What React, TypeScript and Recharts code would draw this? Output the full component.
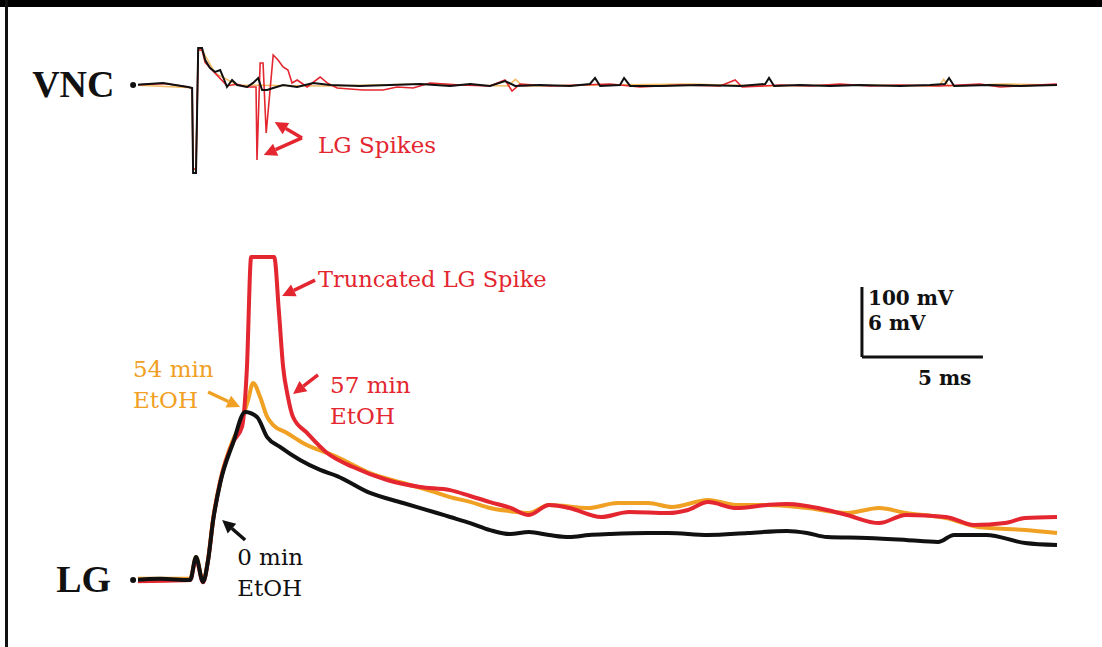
import { LineChart, Line, XAxis, YAxis, ReferenceLine, ReferenceDot } from 'recharts';

// time base in ms, LG in mV (re: rest), VNC in µV
const lgBlackT = [0, 1.12, 2.36, 2.6, 2.89, 3.1, 3.31, 3.6, 4.13, 4.63, 5.12, 5.54, 6.07, 6.9, 7.73, 8.43, 9.79, 11.16, 12.56, 13.1, 13.93, 14.75, 15.58, 16.36, 17.19, 18.02, 18.84, 19.67, 21.28, 22.11, 23.76, 25.41, 27.02, 27.85, 28.68, 30.33, 31.94, 33.26, 33.93, 35.25, 36.86, 38.18];
const lgBlackV = [0, 0.1, 0, 1.97, -0.17, 1.71, 5.14, 8.31, 11.74, 14.4, 13.97, 12.25, 11.4, 10.28, 9.43, 8.91, 7.46, 6.6, 5.74, 5.4, 4.88, 4.28, 3.94, 4.11, 3.86, 3.68, 3.86, 3.94, 4.03, 4.03, 3.86, 4.03, 4.2, 4.03, 3.68, 3.6, 3.43, 3.26, 3.86, 3.86, 3.17, 3.0];

const lgOrangeT = [0, 2.36, 2.6, 2.89, 3.1, 3.31, 3.6, 4.13, 4.42, 4.75, 4.96, 5.25, 5.54, 5.79, 6.36, 7.02, 8.43, 9.79, 11.16, 12.56, 13.1, 13.93, 14.75, 15.58, 16.36, 17.19, 18.84, 20.0, 21.28, 22.27, 23.76, 24.92, 26.2, 27.85, 29.5, 30.83, 31.94, 33.6, 34.92, 36.86, 38.18];
const lgOrangeV = [0.1, 0.1, 1.97, -0.1, 1.8, 5.3, 8.5, 12.0, 13.3, 15.4, 16.88, 15.68, 13.97, 13.28, 12.6, 11.74, 10.54, 9.17, 8.31, 7.46, 7.1, 6.7, 6.17, 5.9, 5.74, 6.43, 6.17, 6.6, 6.6, 6.26, 6.86, 6.43, 6.43, 6.17, 5.74, 6.17, 5.74, 5.31, 4.54, 4.28, 4.03];

const lgRedT = [0, 2.36, 2.6, 2.89, 3.1, 3.31, 3.6, 4.13, 4.5, 4.7, 4.88, 5.83, 6.03, 6.2, 6.4, 6.61, 7.19, 8.02, 9.09, 10.5, 11.86, 13.1, 13.93, 14.75, 15.58, 16.36, 17.19, 18.02, 19.34, 20.5, 22.11, 22.93, 23.76, 24.92, 26.2, 27.02, 28.68, 29.5, 30.83, 31.94, 33.6, 34.75, 36.03, 36.86, 38.18];
const lgRedV = [-0.1, 0, 1.8, -0.2, 1.7, 5.2, 8.4, 11.8, 13.11, 18.0, 27.68, 27.68, 22.88, 18.25, 15.68, 13.97, 12.6, 10.88, 9.68, 8.57, 7.97, 7.7, 7.2, 6.68, 6.2, 5.57, 6.43, 6.17, 5.4, 5.83, 5.74, 6.0, 6.68, 6.17, 6.43, 6.51, 6.0, 5.57, 4.88, 5.57, 5.4, 4.71, 4.88, 5.31, 5.4];

const vncBlackT = [0, 1.24, 1.74, 2.27, 2.44, 2.48, 2.6, 2.69, 2.85, 2.98, 3.18, 3.39, 3.6, 3.72, 3.88, 4.09, 4.3, 4.71, 4.96, 5.17, 5.33, 5.54, 5.79, 6.2, 6.78, 7.44, 8.14, 9.38, 10.62, 11.86, 13.1, 13.93, 14.75, 15.37, 15.79, 16.82, 18.06, 18.88, 19.09, 19.3, 20.12, 20.29, 20.54, 21.78, 23.43, 25.08, 26.12, 26.28, 26.49, 27.56, 28.8, 30.04, 31.69, 32.93, 33.55, 33.72, 33.93, 35.41, 36.65, 38.18];
const vncBlackV = [0, 2.9, 0, -2.9, -4.3, -125.7, -125.7, 52.9, 52.9, 35.7, 24.3, 18.6, 21.4, 11.4, -2.9, 7.1, 0, -2.9, 2.9, 10, -7.1, -7.1, -4.3, 0, -2.9, 2.9, 0, -1.4, 0, 1.4, -1.4, 1.4, -1.4, 5.7, -1.4, 0, -1.4, 1.4, 10, -1.4, 0, 10, -1.4, -1.4, 0, -1.4, 1.4, 10, -1.4, 0, -1.4, 0, -1.4, 0, 1.4, 10, -1.4, 0, -1.4, 0];

const vncRedT = [0, 1.24, 1.74, 2.27, 2.44, 2.48, 2.6, 2.69, 2.85, 2.98, 3.39, 3.88, 4.3, 4.71, 5.08, 5.12, 5.25, 5.37, 5.5, 5.79, 5.99, 6.2, 6.4, 6.57, 6.78, 7.19, 7.73, 8.02, 8.43, 9.5, 10.33, 10.91, 11.57, 12.27, 13.51, 14.75, 15.37, 15.66, 15.99, 17.23, 18.47, 19.71, 20.95, 22.6, 24.26, 24.88, 25.17, 26.74, 27.98, 29.21, 30.45, 31.69, 33.35, 35.0, 35.83, 38.18];
const vncRedV = [0, 2, 0, -2.9, -4.3, -120, -120, 50, 50, 32, 17, -1, 1, -2.9, -2.9, -107.1, 31.4, 31.4, -68.6, 42.9, 35.7, 25.7, 21.4, 2.9, 7.1, -2.9, 11.4, 2.9, -4.3, -7.1, -7.1, -2.9, -4.3, 2.9, 0, -1.4, 7.1, -8.6, 1.4, -1.4, 0, 1.4, -2.9, 0, -1.4, 7.1, -2.9, 0, -1.4, 1.4, -1.4, 0, -1.4, 1.4, -2.9, 1.4];

const vncOrangeT = [0, 2.44, 2.48, 2.6, 2.69, 2.85, 3.39, 4.3, 8, 12, 15.5, 15.8, 16.1, 19.5, 23, 26, 30, 33.3, 33.5, 33.7, 36, 38.18];
const vncOrangeV = [0, -4, -120, -120, 50, 50, 17, 0, -1.4, 1.4, -1.4, 8, -1.4, 0, 1.4, -1.4, 0, -1.4, 8, -1.4, 1.4, 0];

const RED = '#e3262f';
const ORANGE = '#f0a023';
const BLACK = '#111111';

const zip = (t: number[], v: number[]) => t.map((x, i) => ({ t: x, v: v[i] }));

// annotations, anchored in data coordinates
const labels = [
  { lines: ['VNC'], t: -4.17, v: -17.1, axis: 'vnc', color: BLACK, size: 38, bold: true, family: 'Liberation Serif' },
  { lines: ['LG'], t: -3.18, v: -1.03, axis: 'lg', color: BLACK, size: 38, bold: true, family: 'Liberation Serif' },
  { lines: ['LG Spikes'], t: 7.64, v: -97.1, axis: 'vnc', color: RED, size: 23, bold: false, family: 'DejaVu Serif' },
  { lines: ['Truncated LG Spike'], t: 7.64, v: 25.1, axis: 'lg', color: RED, size: 22.5, bold: false, family: 'DejaVu Serif' },
  { lines: ['54 min', 'EtOH'], t: 0, v: 17.4, axis: 'lg', color: ORANGE, size: 23, bold: false, family: 'DejaVu Serif' },
  { lines: ['57 min', 'EtOH'], t: 8.14, v: 16.0, axis: 'lg', color: RED, size: 23, bold: false, family: 'DejaVu Serif' },
  { lines: ['0 min', 'EtOH'], t: 4.3, v: 1.29, axis: 'lg', color: BLACK, size: 23, bold: false, family: 'DejaVu Serif' },
  { lines: ['100 mV'], t: 30.37, v: 23.56, axis: 'lg', color: BLACK, size: 20, bold: true, family: 'DejaVu Serif' },
  { lines: ['6 mV'], t: 30.37, v: 21.42, axis: 'lg', color: BLACK, size: 20, bold: true, family: 'DejaVu Serif' },
  { lines: ['5 ms'], t: 32.44, v: 16.71, axis: 'lg', color: BLACK, size: 20, bold: true, family: 'DejaVu Serif' },
];

const arrows = [
  { from: [6.98, -75.7], to: [5.4, -100], axis: 'vnc', color: RED },
  { from: [6.98, -75.7], to: [5.85, -53], axis: 'vnc', color: RED },
  { from: [7.52, 25.7], to: [6.16, 24.34], axis: 'lg', color: RED },
  { from: [7.64, 17.57], to: [6.61, 15.94], axis: 'lg', color: RED },
  { from: [3.1, 16.11], to: [4.42, 14.82], axis: 'lg', color: ORANGE },
  { from: [4.63, 3.43], to: [3.68, 5.14], axis: 'lg', color: BLACK },
];

// 5 ms x 6 mV scale bar (LG axis)
const scaleBar = { t0: 30.12, t1: 35.12, v0: 19.11, v1: 25.11 };

const arrowShape = (color: string) => (p: any) => {
  const { x1, y1, x2, y2 } = p;
  const a = Math.atan2(y2 - y1, x2 - x1);
  const L = 13;
  const W = 6.5;
  const bx = x2 - L * Math.cos(a);
  const by = y2 - L * Math.sin(a);
  const nx = -Math.sin(a) * W;
  const ny = Math.cos(a) * W;
  return (
    <g>
      <line x1={x1} y1={y1} x2={bx} y2={by} stroke={color} strokeWidth={3.5} />
      <polygon points={`${x2},${y2} ${bx + nx},${by + ny} ${bx - nx},${by - ny}`} fill={color} />
    </g>
  );
};

const textShape = (l: any) => (p: any) => (
  <text
    x={p.cx}
    y={p.cy}
    fill={l.color}
    fontSize={l.size}
    fontWeight={l.bold ? 'bold' : 'normal'}
    fontFamily={l.family}
  >
    {l.lines.map((s: string, i: number) => (
      <tspan key={i} x={p.cx} dy={i === 0 ? 0 : l.size * 1.35}>
        {s}
      </tspan>
    ))}
  </text>
);

export default function App() {
  return (
    <div style={{ position: 'absolute', top: 0, left: 0, width: 1102, height: 647, background: '#fff' }}>
      <div style={{ position: 'absolute', top: 0, left: 0, width: 1102, height: 7, background: '#000' }} />
      <div style={{ position: 'absolute', top: 0, left: 5, width: 3, height: 647, background: '#111' }} />
      <LineChart width={1102} height={647} margin={{ top: 0, right: 0, bottom: 0, left: 0 }}>
        <XAxis type="number" dataKey="t" domain={[-5.5, 40.04]} allowDataOverflow hide />
        <YAxis yAxisId="vnc" type="number" domain={[-802.9, 121.4]} allowDataOverflow hide />
        <YAxis yAxisId="lg" type="number" domain={[-5.74, 49.7]} allowDataOverflow hide />

        <Line yAxisId="vnc" data={zip(vncOrangeT, vncOrangeV)} dataKey="v" type="linear" stroke={ORANGE} strokeWidth={1.5} strokeOpacity={0.7} dot={false} isAnimationActive={false} />
        <Line yAxisId="vnc" data={zip(vncRedT, vncRedV)} dataKey="v" type="linear" stroke={RED} strokeWidth={1.6} dot={false} isAnimationActive={false} />
        <Line yAxisId="vnc" data={zip(vncBlackT, vncBlackV)} dataKey="v" type="linear" stroke={BLACK} strokeWidth={2} dot={false} isAnimationActive={false} />

        <Line yAxisId="lg" data={zip(lgOrangeT, lgOrangeV)} dataKey="v" type="monotone" stroke={ORANGE} strokeWidth={4} dot={false} isAnimationActive={false} />
        <Line yAxisId="lg" data={zip(lgRedT, lgRedV)} dataKey="v" type="monotone" stroke={RED} strokeWidth={4} dot={false} isAnimationActive={false} />
        <Line yAxisId="lg" data={zip(lgBlackT, lgBlackV)} dataKey="v" type="monotone" stroke={BLACK} strokeWidth={4} dot={false} isAnimationActive={false} />

        <ReferenceLine
          yAxisId="lg"
          segment={[{ x: scaleBar.t0, y: scaleBar.v1 }, { x: scaleBar.t0, y: scaleBar.v0 }]}
          stroke={BLACK}
          strokeWidth={3}
          ifOverflow="visible"
        />
        <ReferenceLine
          yAxisId="lg"
          segment={[{ x: scaleBar.t0, y: scaleBar.v0 }, { x: scaleBar.t1, y: scaleBar.v0 }]}
          stroke={BLACK}
          strokeWidth={3}
          ifOverflow="visible"
        />

        {arrows.map((a, i) => (
          <ReferenceLine
            key={'a' + i}
            yAxisId={a.axis}
            segment={[{ x: a.from[0], y: a.from[1] }, { x: a.to[0], y: a.to[1] }]}
            ifOverflow="visible"
            shape={arrowShape(a.color)}
          />
        ))}

        {labels.map((l, i) => (
          <ReferenceDot
            key={'l' + i}
            yAxisId={l.axis}
            x={l.t}
            y={l.v}
            r={0}
            ifOverflow="visible"
            shape={textShape(l)}
          />
        ))}
      </LineChart>
    </div>
  );
}
